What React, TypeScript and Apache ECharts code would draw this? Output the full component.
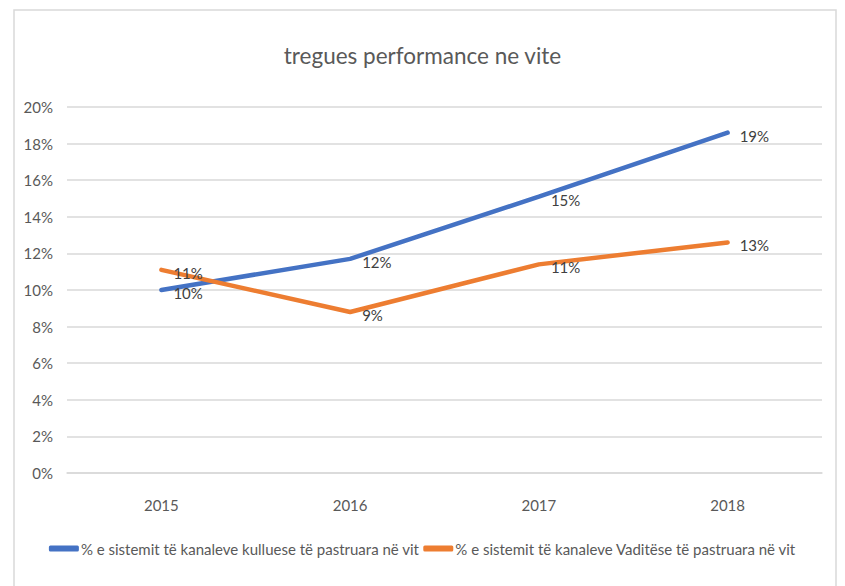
import React, { useEffect, useRef } from "react";
import * as echarts from "echarts";

const title = "tregues performance ne vite";
const categories = ["2015", "2016", "2017", "2018"];
const seriesNames = [
  "% e sistemit të kanaleve kulluese të pastruara në vit",
  "% e sistemit të kanaleve Vaditëse të pastruara në vit",
];
const kulluese = [0.1, 0.117, 0.151, 0.186];
const vaditese = [0.111, 0.088, 0.114, 0.126];
const colors = ["#4472c4", "#ed7d31"];

const FONT = "Lato, 'Open Sans', sans-serif";

export default function App() {
  const ref = useRef<HTMLDivElement>(null);
  useEffect(() => {
    const chart = echarts.init(ref.current!, null, { renderer: "svg" });
    const pct = (v: number) => Math.round(v * 100) + "%";
    const label = {
      show: true,
      position: "right" as const,
      distance: 12,
      offset: [0, 3],
      color: "#404040",
      fontFamily: FONT,
      fontSize: 15,
      formatter: (p: any) => pct(p.value),
    };
    chart.setOption({
      animation: false,
      backgroundColor: "#ffffff",
      textStyle: { fontFamily: FONT },
      title: {
        text: title,
        left: "center",
        top: 39,
        textStyle: { fontFamily: FONT, fontSize: 22.5, fontWeight: "normal", color: "#595959" },
      },
      grid: { left: 67, right: 23, top: 107, bottom: 113, containLabel: false },
      legend: {
        bottom: 25,
        left: "center",
        itemWidth: 30,
        itemHeight: 6,
        itemGap: 4,
        icon: "roundRect",
        textStyle: { fontFamily: FONT, fontSize: 15, color: "#595959", padding: [0, 0, 0, -3] },
        data: seriesNames,
      },
      xAxis: {
        type: "category",
        data: categories,
        boundaryGap: true,
        axisLine: { show: true, lineStyle: { color: "#d9d9d9", width: 1.5 } },
        axisTick: { show: false },
        axisLabel: { color: "#595959", fontSize: 15, fontFamily: FONT, margin: 24 },
      },
      yAxis: {
        type: "value",
        min: 0,
        max: 0.2,
        interval: 0.02,
        axisLine: { show: false },
        axisTick: { show: false },
        splitLine: { lineStyle: { color: "#d9d9d9", width: 1.5 } },
        axisLabel: {
          color: "#595959",
          fontSize: 15,
          fontFamily: FONT,
          margin: 14,
          formatter: (v: number) => Math.round(v * 100) + "%",
        },
      },
      series: [
        {
          name: seriesNames[0],
          type: "line",
          data: kulluese,
          showSymbol: true,
          symbol: "circle",
          symbolSize: 0.1,
          lineStyle: { color: colors[0], width: 4.5, cap: "round" },
          itemStyle: { color: colors[0] },
          label,
        },
        {
          name: seriesNames[1],
          type: "line",
          data: vaditese,
          showSymbol: true,
          symbol: "circle",
          symbolSize: 0.1,
          lineStyle: { color: colors[1], width: 4.5, cap: "round" },
          itemStyle: { color: colors[1] },
          label,
        },
      ],
      graphic: [
        {
          type: "rect",
          shape: { x: 14, y: 10, width: 822, height: 600 },
          style: { fill: "none", stroke: "#d9d9d9", lineWidth: 1.5 },
          silent: true,
        },
      ],
    });
    return () => chart.dispose();
  }, []);
  return (
    <div
      ref={ref}
      style={{ position: "fixed", left: 0, top: 0, width: 845, height: 586 }}
    />
  );
}
